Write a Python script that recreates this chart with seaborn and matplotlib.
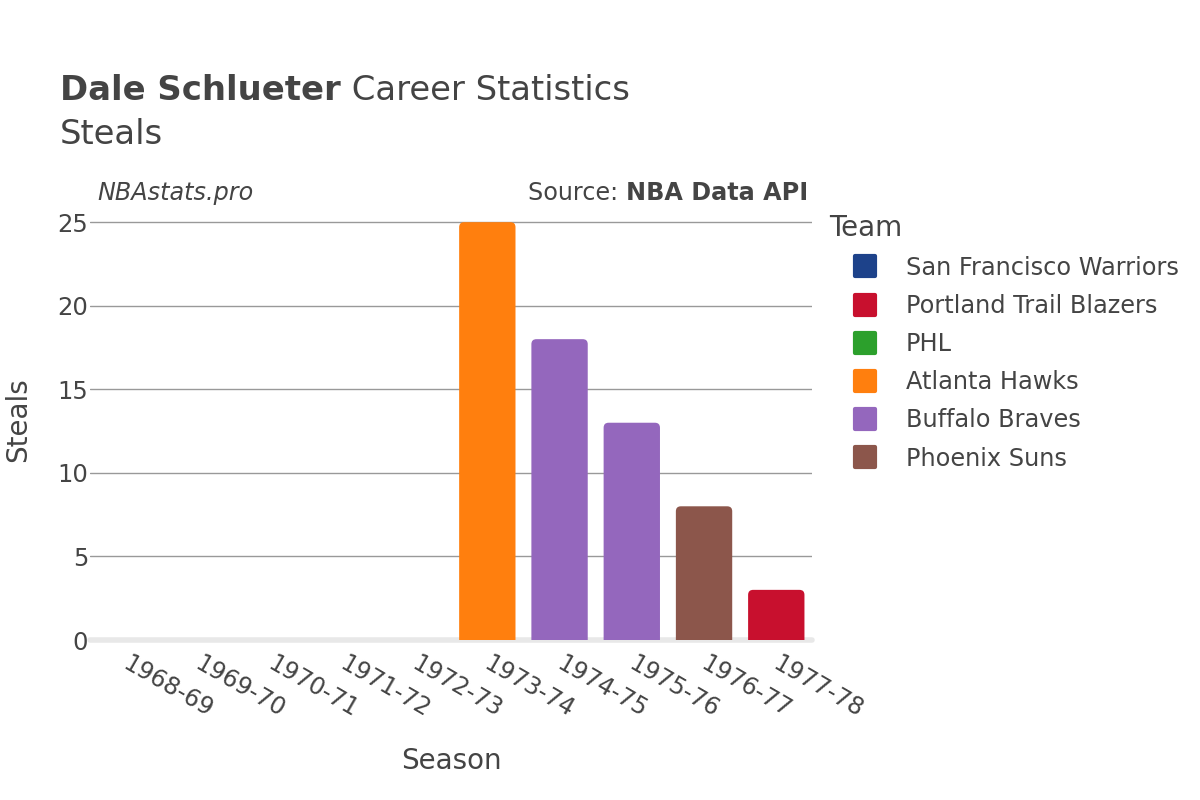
import matplotlib
matplotlib.use("Agg")
import matplotlib.pyplot as plt
import matplotlib.transforms as mtransforms
from matplotlib.patches import FancyBboxPatch
from matplotlib.lines import Line2D
from matplotlib.markers import MarkerStyle
import seaborn as sns
import pandas as pd

seasons = ['1968-69', '1969-70', '1970-71', '1971-72', '1972-73',
           '1973-74', '1974-75', '1975-76', '1976-77', '1977-78']
steals = [0, 0, 0, 0, 0, 25, 18, 13, 8, 3]
teams = ['San Francisco Warriors', 'San Francisco Warriors', 'Portland Trail Blazers',
         'Portland Trail Blazers', 'PHL', 'Atlanta Hawks', 'Buffalo Braves',
         'Buffalo Braves', 'Phoenix Suns', 'Portland Trail Blazers']
team_order = ['San Francisco Warriors', 'Portland Trail Blazers', 'PHL',
              'Atlanta Hawks', 'Buffalo Braves', 'Phoenix Suns']
team_colors = ['#1d428a', '#c8102e', '#2ca02c', '#ff7f0e', '#9467bd', '#8c564b']

df = pd.DataFrame({'Season': seasons, 'Steals': steals, 'Team': teams})
palette = dict(zip(team_order, team_colors))

sns.set_style('white')
plt.rcParams['font.family'] = ['DejaVu Sans']
text_color = '#444444'

fig = plt.figure(figsize=(12, 8), dpi=100)
ax = fig.add_axes([0.075, 0.2, 0.602, 0.539])

sns.barplot(data=df, x='Season', y='Steals', hue='Team', hue_order=team_order,
            palette=palette, dodge=False, width=0.78, saturation=1, legend=False, ax=ax)

# rounded tops: swap each rectangle for a rounded box of the same geometry
px_x = 722 / 10.0
px_y = 431.4 / 25.8
for bar in list(ax.patches):
    h = bar.get_height()
    if h <= 0:
        bar.remove()
        continue
    x0, w = bar.get_x(), bar.get_width()
    c = bar.get_facecolor()
    bar.remove()
    r = 5 / px_x
    box = FancyBboxPatch((x0, -1), w, h + 1,
                         boxstyle=f"round,pad=0,rounding_size={r}",
                         mutation_aspect=px_x / px_y,
                         facecolor=c, edgecolor='none', zorder=2)
    ax.add_patch(box)

ax.set_xlim(-0.5, 9.5)
ax.set_ylim(0, 25.8)
ax.set_yticks([0, 5, 10, 15, 20, 25])
ax.yaxis.grid(True, color='#999999', linewidth=1)
ax.set_axisbelow(True)
ax.axhline(0, color='#e8e8e8', linewidth=4, zorder=1, clip_on=False)
for s in ax.spines.values():
    s.set_visible(False)

ax.tick_params(axis='y', length=0, pad=1.4, labelsize=17.5, labelcolor=text_color)
ax.tick_params(axis='x', length=0, pad=8, labelsize=17.2, labelcolor=text_color)
shift = mtransforms.ScaledTranslation(5 / 100, 0, fig.dpi_scale_trans)
for lbl in ax.get_xticklabels():
    lbl.set_rotation(-30)
    lbl.set_ha('left')
    lbl.set_va('top')
    lbl.set_rotation_mode('anchor')
    lbl.set_transform(lbl.get_transform() + shift)

ax.set_xlabel('Season', fontsize=20, color=text_color, labelpad=18)
ax.set_ylabel('Steals', fontsize=20, color=text_color)
ax.yaxis.set_label_coords(-0.080, 0.511)

# titles and notes
t1 = fig.text(60 / 1200, 1 - 100 / 800, 'Dale Schlueter', fontsize=24.4, fontweight='bold',
              color=text_color, va='baseline')
fig.text(60 / 1200, 1 - 144 / 800, 'Steals', fontsize=24.4, color=text_color, va='baseline')
fig.text(97 / 1200, 1 - 200 / 800, 'NBAstats.pro', fontsize=17.2, style='italic',
         color=text_color, va='baseline')
s2 = fig.text(808 / 1200, 1 - 200 / 800, 'NBA Data API', fontsize=17.2, fontweight='bold',
              color=text_color, va='baseline', ha='right')

fig.canvas.draw()
renderer = fig.canvas.get_renderer()
inv = fig.transFigure.inverted()
bb = t1.get_window_extent(renderer).transformed(inv)
fig.text(bb.x1, 1 - 100 / 800, ' Career Statistics', fontsize=24.4, color=text_color, va='baseline')
bb2 = s2.get_window_extent(renderer).transformed(inv)
fig.text(bb2.x0, 1 - 200 / 800, 'Source: ', fontsize=17.2, color=text_color, va='baseline', ha='right')

handles = [Line2D([], [], linestyle='', marker=MarkerStyle('s', joinstyle='round'),
                  markersize=14, markerfacecolor=c, markeredgecolor=c, markeredgewidth=3)
           for c in team_colors]
leg = fig.legend(handles, team_order, title='Team', loc='upper left',
                 bbox_to_anchor=(820 / 1200, 1 - 204 / 800), frameon=False,
                 fontsize=17.3, title_fontsize=20, labelspacing=0.59, handlelength=2.93,
                 handletextpad=0.23, borderaxespad=0)
leg._legend_box.align = 'left'
for txt in leg.get_texts():
    txt.set_color(text_color)
leg.get_title().set_color(text_color)

fig.savefig('out.png', dpi=100)
